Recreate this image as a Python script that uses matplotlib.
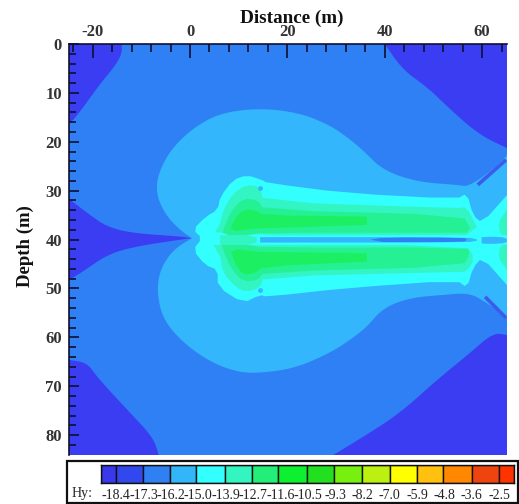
import matplotlib
matplotlib.use("Agg")
import matplotlib.pyplot as plt
from matplotlib.patches import Rectangle

plt.rcParams['font.family'] = ['Liberation Serif', 'DejaVu Serif']
plt.rcParams['axes.unicode_minus'] = False

W, H = 519, 504

# Colour levels of Hy
level_labels = ['-18.4', '-17.3', '-16.2', '-15.0', '-13.9', '-12.7', '-11.6', '-10.5',
                '-9.3', '-8.2', '-7.0', '-5.9', '-4.8', '-3.6', '-2.5']
level_colors = ['#3838ec', '#3048ee', '#2f80f2', '#33b6f8', '#33ffff', '#33f5c0', '#22ee78', '#0cf030',
                '#22e020', '#77f010', '#bbf010', '#ffff00', '#ffc010', '#ff8800', '#f04410', '#ff3300']
cell_edges = [-0.56, 0.0, 0.97, 1.95, 2.92, 3.98, 4.96, 5.93, 6.97, 7.98,
              8.98, 10.01, 10.99, 11.96, 13.0, 14.0, 14.55]

COL_DARK = '#3a3df2'
COL_L1 = '#2f80f4'
COL_L2 = '#33b6fb'
COL_L3 = '#33ffff'
COL_L4 = '#33f5c4'
COL_L5 = '#26f094'
COL_L6 = '#1cf062'

# Contour regions: (distance m, depth m); curve first, then the frame corners that close it
top_left = [(-14.0, 0), (-14.0, 2.0), (-15.4, 4.5), (-18.5, 8.2), (-21.6, 12.5), (-23.6, 15.1), (-24.85, 16.4)]
top_left_corners = [(-24.85, 0)]
left_wedge = [(-24.85, 31.7), (-20.5, 35.0), (-17.0, 37.4), (-11.7, 38.7), (-2.7, 39.3), (0.4, 39.7), (0.4, 39.7),
              (-2.7, 40.1), (-11.7, 41.5), (-17.0, 43.1), (-21.5, 46.2), (-24.85, 48.3)]
bottom_left = [(-24.85, 64.6), (-21.1, 65.2), (-19.1, 68.1), (-12.9, 74.8), (-7.6, 80.4), (-6.4, 84.05)]
bottom_left_corners = [(-24.85, 84.05)]
top_right = [(40.0, 0), (43.7, 5.3), (48.7, 8.8), (54.0, 13.9), (59.5, 18.6), (65.1, 21.3)]
top_right_corners = [(65.1, 0)]
bottom_right = [(29.4, 84.05), (35.5, 80.4), (43.1, 75.5), (50.7, 68.7), (57.5, 63.2), (62.2, 59.1), (65.1, 59.5)]
bottom_right_corners = [(65.1, 84.05)]

heart = [(65.1, 21.7), (65.1, 23.3), (57.5, 29.2), (54.8, 28.8), (46.6, 28.2), (39.6, 25.8), (35.5, 21.7),
         (32.2, 19.0), (28.7, 16.6), (22.6, 14.1), (14.4, 13.1), (6.2, 14.1), (0.6, 17.2), (-4.1, 21.7),
         (-6.8, 27.2), (-6.8, 31.3), (-4.7, 35.4), (-1.6, 38.4), (0.4, 39.7), (0.4, 39.7), (-3.5, 42.1), (-6.2, 46.2),
         (-6.8, 50.9), (-5.5, 56.4), (-1.4, 61.1), (4.1, 65.0), (9.7, 67.1), (14.4, 67.3), (21.6, 66.3),
         (28.7, 63.2), (32.9, 60.5), (36.3, 57.9), (39.6, 54.0), (45.2, 51.9), (52.0, 51.3), (57.5, 50.9),
         (61.0, 53.0), (65.1, 55.8)]
no_corners = []

cyan = [(65.1, 30.9), (60.0, 36.6), (58.1, 35.0), (56.9, 30.5), (54.8, 31.7), (32.2, 30.5), (15.8, 28.4),
        (14.8, 27.8), (11.7, 26.8), (8.8, 27.8), (6.2, 31.3), (5.7, 33.9), (3.1, 35.4), (0.6, 38.0),
        (2.5, 39.7), (0.6, 42.1), (3.1, 45.2), (5.7, 46.2), (5.7, 49.7), (10.9, 53.0), (14.4, 51.3),
        (15.8, 51.7), (32.2, 49.9), (54.8, 48.3), (56.9, 49.9), (58.1, 45.8), (60.0, 43.6), (65.1, 49.3)]

l4_upper = [(58.9, 37.4), (56.8, 33.3), (54.8, 33.6), (15.1, 32.2), (14.4, 29.2), (11.6, 28.8), (8.9, 30.5),
            (6.8, 33.9), (6.2, 36.7), (4.8, 39.1), (56.8, 39.1)]
l4_lower = [(4.8, 41.1), (56.8, 41.1), (58.5, 43.8), (56.8, 46.6), (54.8, 46.6), (15.1, 47.6), (14.4, 49.9),
            (11.6, 50.7), (9.6, 49.9), (6.8, 46.9), (6.2, 43.5)]
l4_centre = [(6.2, 39.1), (13.7, 39.1), (13.7, 41.1), (6.2, 41.1)]
l4_edge_up = [(65.1, 33.9), (63.3, 36.3), (63.7, 39.1), (65.1, 39.1)]
l4_edge_lo = [(65.1, 41.1), (63.7, 41.1), (63.3, 43.8), (65.1, 46.2)]

l5_upper = [(57.5, 37.7), (56.1, 35.0), (15.1, 33.9), (14.0, 31.9), (10.9, 31.6), (8.6, 33.9), (7.2, 37.0),
            (6.5, 39.1), (12.3, 39.1), (14.4, 38.6), (56.8, 38.6)]
l5_lower = [(6.5, 41.1), (12.3, 41.1), (14.4, 41.6), (56.8, 41.6), (57.5, 42.8), (56.1, 45.5), (15.1, 46.6),
            (14.0, 48.3), (10.9, 48.6), (8.6, 46.2), (7.2, 43.1)]

l6_upper = [(36.3, 35.3), (15.1, 35.0), (13.3, 33.9), (10.9, 33.9), (9.2, 35.7), (7.9, 38.4), (14.0, 37.7),
            (15.1, 37.7), (36.3, 37.0)]
l6_lower = [(36.3, 42.8), (15.1, 42.5), (14.0, 42.5), (8.2, 41.8), (9.2, 44.9), (10.9, 47.2), (13.3, 46.9),
            (15.1, 45.5), (36.3, 44.5)]

channel = [(14.4, 39.5), (56.8, 39.5), (59.6, 40.1), (56.8, 40.6), (14.4, 40.6)]
channel_core = [(37.0, 40.0), (39.7, 39.6), (56.1, 39.6), (57.0, 40.0), (56.1, 40.5), (39.7, 40.5)]
edge_blob = [(59.9, 39.5), (62.0, 39.4), (65.1, 39.6), (65.1, 40.7), (62.0, 40.9), (59.9, 40.8)]

streak_up_x, streak_up_d = [59.1, 64.9], [28.8, 23.7]
streak_lo_x, streak_lo_d = [60.6, 64.9], [51.7, 56.0]
spot_x, spot_d = [14.4, 14.4], [29.5, 50.3]

smooth_regions = [(top_left, top_left_corners, COL_DARK), (left_wedge, no_corners, COL_DARK),
                  (bottom_left, bottom_left_corners, COL_DARK), (top_right, top_right_corners, COL_DARK),
                  (bottom_right, bottom_right_corners, COL_DARK), (heart, no_corners, COL_L2)]
sharp_regions = [(cyan, COL_L3), (l4_upper, COL_L4), (l4_lower, COL_L4),
                 (l4_centre, COL_L4), (l4_edge_up, COL_L4), (l4_edge_lo, COL_L4), (l5_upper, COL_L5), (l5_lower, COL_L5),
                 (l6_upper, COL_L6), (l6_lower, COL_L6), (channel, COL_L2), (channel_core, COL_L1), (edge_blob, COL_L2)]

x_ticks = [-20, 0, 20, 40, 60]
x_minor = [-24, -16, -12, -8, -4, 4, 8, 12, 16, 24, 28, 32, 36, 44, 48, 52, 56, 64]
y_ticks = [0, 10, 20, 30, 40, 50, 60, 70, 80]
y_minor = [d for d in range(2, 84, 2) if d % 10 != 0]


def rounded(pts, passes=3):
    """Corner-cut the outline so contours read as curves; the chain ends stay put."""
    for _ in range(passes):
        out = [pts[0]]
        for (x0, y0), (x1, y1) in zip(pts[:-1], pts[1:]):
            out.append((0.75 * x0 + 0.25 * x1, 0.75 * y0 + 0.25 * y1))
            out.append((0.25 * x0 + 0.75 * x1, 0.25 * y0 + 0.75 * y1))
        out.append(pts[-1])
        pts = out
    return pts


fig = plt.figure(figsize=(W / 100, H / 100), dpi=100)


def box(l, t, r, b):
    return [l / W, 1 - b / H, (r - l) / W, (b - t) / H]


ax = fig.add_axes(box(69, 44, 507, 455))
ax.set_facecolor(COL_L1)
ax.set_xlim(-24.85, 65.1)
ax.set_ylim(84.05, 0)
for pts, corners, col in smooth_regions:
    xs, ds = zip(*(rounded(pts) + corners))
    ax.fill(xs, ds, color=col, lw=0)
for pts, col in sharp_regions:
    xs, ds = zip(*rounded(pts, passes=1))
    ax.fill(xs, ds, color=col, lw=0)
ax.plot(streak_up_x, streak_up_d, color='#3a5cee', lw=2.6, solid_capstyle='butt')
ax.plot(streak_lo_x, streak_lo_d, color='#3a5cee', lw=2.6, solid_capstyle='butt')
ax.scatter(spot_x, spot_d, s=12, color=COL_L2, lw=0, zorder=3)

ax.set_axisbelow(False)
for s in ('right', 'bottom'):
    ax.spines[s].set_visible(False)
for s in ('left', 'top'):
    ax.spines[s].set_color('#101030')
    ax.spines[s].set_linewidth(1.2)
ax.xaxis.tick_top()
ax.xaxis.set_label_position('top')
ax.set_xticks(x_ticks)
ax.set_xticks(x_minor, minor=True)
ax.set_yticks(y_ticks)
ax.set_yticks(y_minor, minor=True)
ax.tick_params(which='major', direction='in', length=10, width=1.2, color='#101030', pad=3, labelsize=12)
ax.tick_params(which='minor', direction='in', length=5.5, width=1.2, color='#101030')
ax.tick_params(axis='y', which='major', length=7, pad=5)
ax.tick_params(axis='y', which='minor', length=5)
for lab in ax.get_xticklabels() + ax.get_yticklabels():
    lab.set_fontweight('bold')
    lab.set_color('#333333')
ax.set_xlabel('Distance (m)', fontsize=13.8, fontweight='bold', color='#111111')
ax.xaxis.set_label_coords(0.509, 1.052)
ax.set_ylabel('Depth (m)', fontsize=13.5, fontweight='bold', color='#111111')
ax.yaxis.set_label_coords(-0.08, 0.508)

# Legend frame
fig.add_artist(Rectangle((67 / W, 1 - 503 / H), 451 / W, 42 / H, transform=fig.transFigure,
                         fill=False, ec='#101010', lw=1.6))

cax = fig.add_axes(box(101, 465, 514, 483))
cax.set_xlim(cell_edges[0], cell_edges[-1])
cax.set_ylim(0, 1)
for i, col in enumerate(level_colors):
    cax.bar(cell_edges[i], 1, width=cell_edges[i + 1] - cell_edges[i], align='edge', color=col,
            edgecolor='#101010', lw=1.0)
cax.set_yticks([])
cax.set_xticks(range(len(level_labels)), level_labels)
cax.tick_params(axis='x', length=0, pad=4, labelsize=10, labelcolor='#222222')
for s in cax.spines.values():
    s.set_linewidth(1.0)
    s.set_color('#101010')
fig.text(72 / W, 1 - 494 / H, 'Hy:', fontsize=10, color='#222222', va='center', ha='left')

fig.savefig('out.png', dpi=100)
